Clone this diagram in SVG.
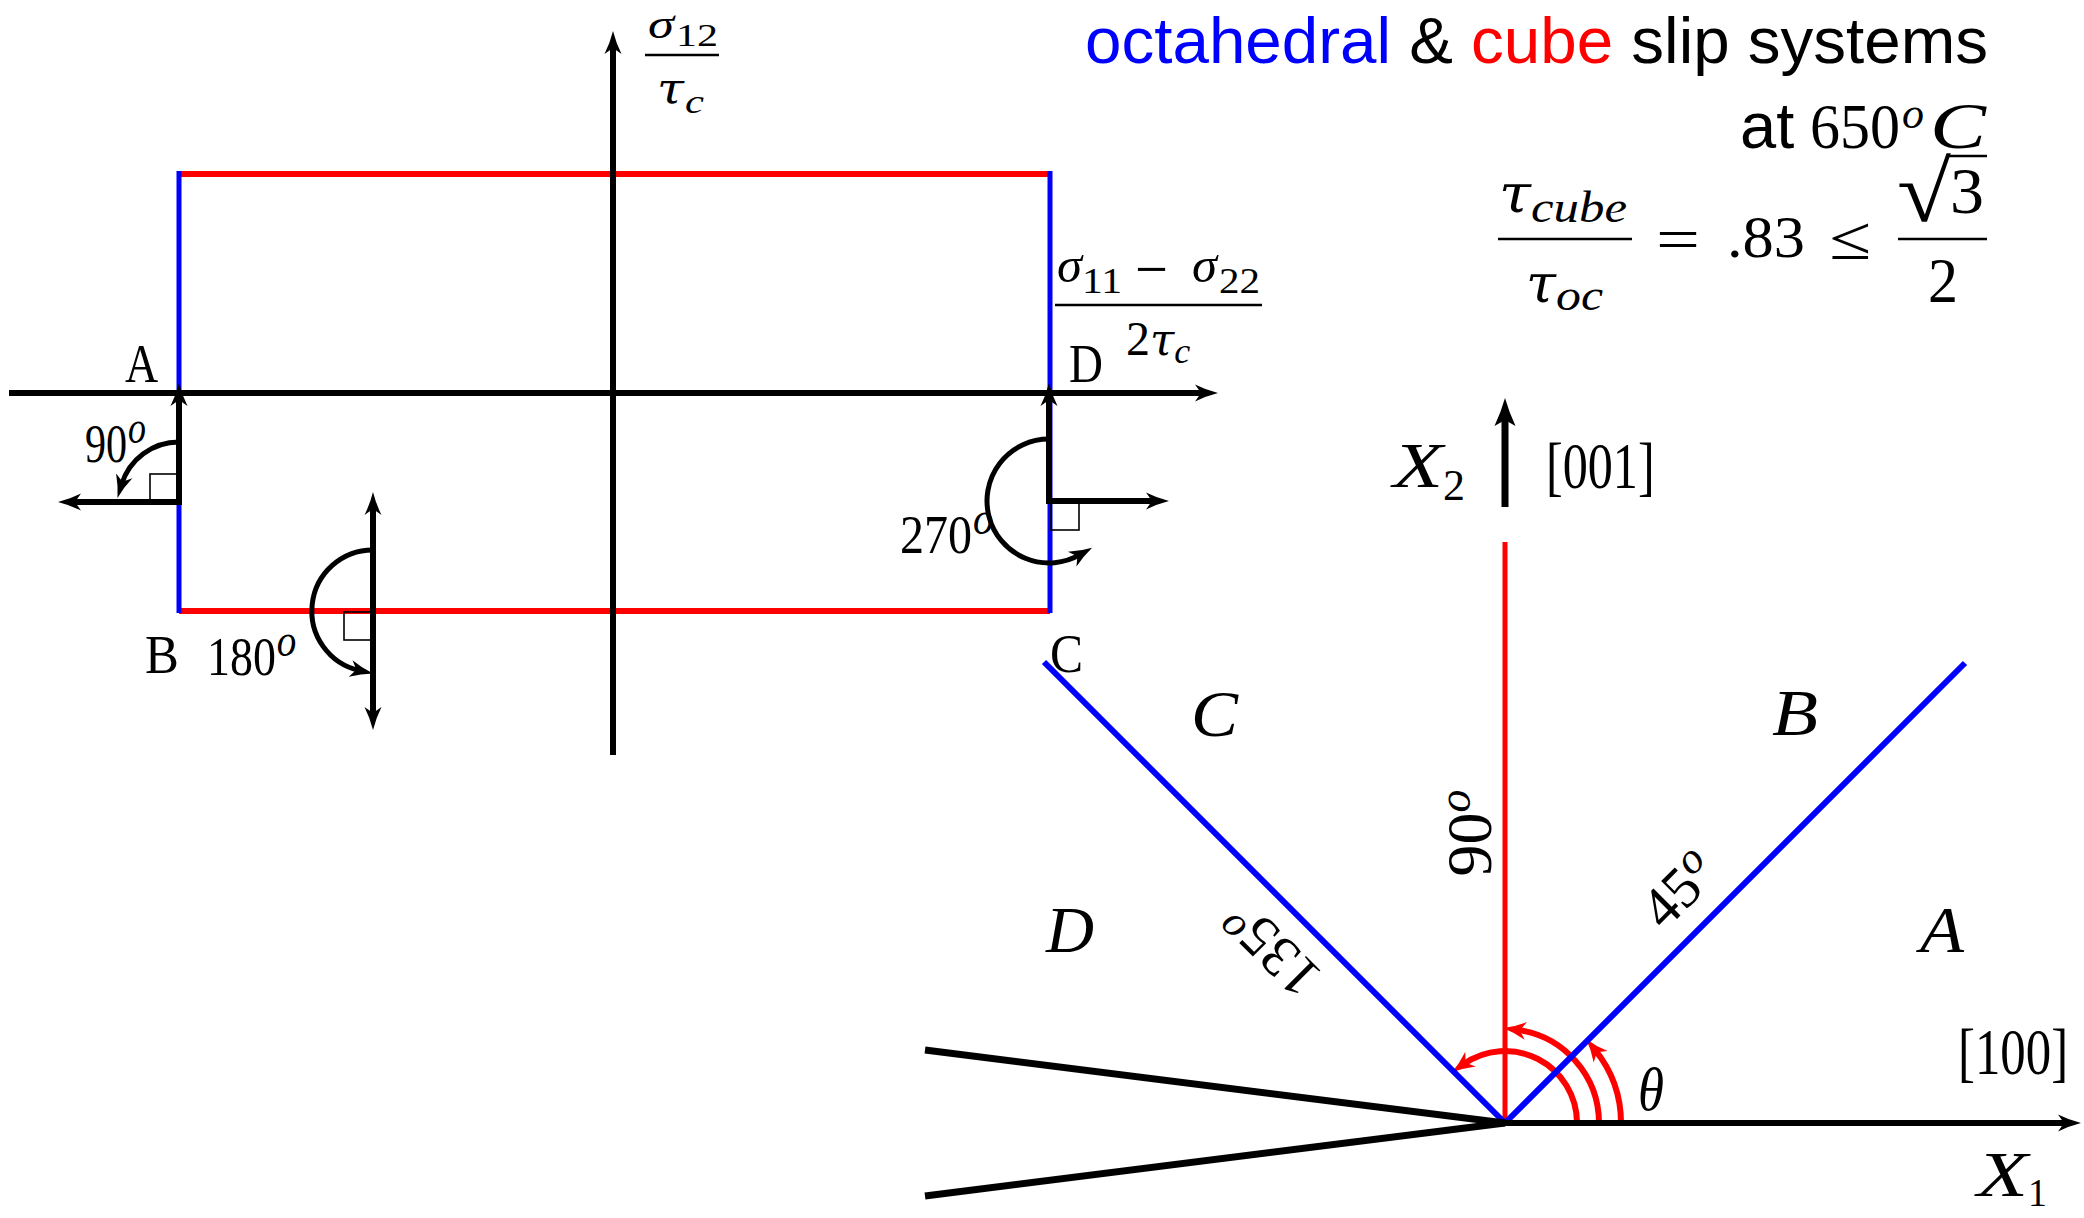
<svg xmlns="http://www.w3.org/2000/svg" width="2084" height="1218" viewBox="0 0 2084 1218">
<style>
.ser{font-family:"Liberation Serif","Times New Roman",serif;fill:#000;}
.it{font-style:italic;}
.tau{font-family:"DejaVu Serif",serif;font-style:italic;fill:#000;}
.sans{font-family:"Liberation Sans",Arial,sans-serif;fill:#000;}
.ax{stroke:#000;stroke-width:6;fill:none;}
.arc{stroke:#000;stroke-width:5;fill:none;}
.sq{stroke:#000;stroke-width:1.6;fill:none;}
.red{stroke:#ff0000;fill:none;}
.blue{stroke:#0000ff;fill:none;}
.frac{stroke:#000;stroke-width:2.6;}
</style>
<defs>
<marker id="ah" markerUnits="userSpaceOnUse" orient="auto-start-reverse" viewBox="-20 -20 40 40" markerWidth="40" markerHeight="40" refX="0" refY="0" overflow="visible">
<path d="M14,0 Q2,-3 -9,-8.5 L-3,0 L-9,8.5 Q2,3 14,0 Z" fill="#000"/>
</marker>
<marker id="ahL" markerUnits="userSpaceOnUse" orient="auto" viewBox="-20 -20 40 40" markerWidth="40" markerHeight="40" refX="0" refY="0" overflow="visible">
<path d="M16,0 Q2,-4 -12,-10.5 L-6,0 L-12,10.5 Q2,4 16,0 Z" fill="#000"/>
</marker>
<marker id="ahr" markerUnits="userSpaceOnUse" orient="auto" viewBox="-20 -20 40 40" markerWidth="40" markerHeight="40" refX="0" refY="0" overflow="visible">
<path d="M14,0 Q2,-3 -9,-9 L-3,0 L-9,9 Q2,3 14,0 Z" fill="#ff0000"/>
</marker>
</defs>
<rect width="2084" height="1218" fill="#fff"/>

<!-- LEFT: yield locus rectangle -->
<g id="yield-rectangle">
<line class="red" stroke-width="6" x1="179" y1="174" x2="1050" y2="174"/>
<line class="red" stroke-width="6" x1="179" y1="611" x2="1050" y2="611"/>
<line class="blue" stroke-width="5" x1="179" y1="171" x2="179" y2="613"/>
<line class="blue" stroke-width="5" x1="1050" y1="171" x2="1050" y2="613"/>
</g>

<g id="stress-axes">
<line class="ax" x1="9" y1="393" x2="1204" y2="393" marker-end="url(#ah)"/>
<line class="ax" x1="613" y1="755" x2="613" y2="45" marker-end="url(#ah)"/>
</g>

<g id="rotation-A">
<path class="ax" d="M179,397 L179,502 L72,502" marker-start="url(#ah)" marker-end="url(#ah)"/>
<rect class="sq" x="150" y="474" width="27" height="27"/>
<path class="arc" d="M179,442 A60,60 0 0 0 121.6,484.5" marker-end="url(#ah)"/>
</g>

<g id="rotation-B">
<path class="ax" d="M373,506 L373,716" marker-start="url(#ah)" marker-end="url(#ah)"/>
<rect class="sq" x="344" y="612" width="28" height="28"/>
<path class="arc" d="M373,550 A61,61 0 0 0 359.4,670.5" marker-end="url(#ah)"/>
</g>

<g id="rotation-D">
<path class="ax" d="M1049,397 L1049,501 L1155,501" marker-start="url(#ah)" marker-end="url(#ah)"/>
<rect class="sq" x="1051" y="502" width="28" height="28"/>
<path class="arc" d="M1049,439 A62,62 0 1 0 1080,554.7" marker-end="url(#ah)"/>
</g>

<g id="left-labels">
<text class="ser" transform="translate(125,382) scale(0.85,1)" font-size="54">A</text>
<text class="ser" transform="translate(1069,382) scale(0.87,1)" font-size="54">D</text>
<text class="ser" transform="translate(145,673) scale(0.94,1)" font-size="54">B</text>
<text class="ser" transform="translate(1050,672) scale(0.92,1)" font-size="54">C</text>
<text class="ser" transform="translate(85,462) scale(0.78,1)" font-size="54">90<tspan class="it" x="55" y="-19" font-size="46">o</tspan></text>
<text class="ser" transform="translate(207,675) scale(0.85,1)" font-size="54">180<tspan class="it" x="82" y="-19" font-size="46">o</tspan></text>
<text class="ser" transform="translate(900,553) scale(0.89,1)" font-size="54">270<tspan class="it" x="82" y="-19" font-size="46">o</tspan></text>
</g>

<g id="axis-label-sigma12">
<text class="ser it" x="648" y="38" font-size="42" textLength="26" lengthAdjust="spacingAndGlyphs">σ</text>
<text class="ser" x="676" y="46" font-size="32" textLength="42" lengthAdjust="spacingAndGlyphs">12</text>
<line class="frac" x1="645" y1="55" x2="719" y2="55"/>
<text class="tau" x="657" y="103" font-size="42" textLength="27" lengthAdjust="spacingAndGlyphs">τ</text>
<text class="ser it" x="685" y="113" font-size="34" textLength="19" lengthAdjust="spacingAndGlyphs">c</text>
</g>

<g id="axis-label-sigma11-22">
<text class="ser it" x="1057" y="282" font-size="50" textLength="25" lengthAdjust="spacingAndGlyphs">σ</text>
<text class="ser" x="1082" y="293" font-size="36" textLength="40" lengthAdjust="spacingAndGlyphs">11</text>
<text class="ser" x="1135" y="290" font-size="62" textLength="33" lengthAdjust="spacingAndGlyphs">−</text>
<text class="ser it" x="1192" y="282" font-size="50" textLength="25" lengthAdjust="spacingAndGlyphs">σ</text>
<text class="ser" x="1219" y="293" font-size="36" textLength="41" lengthAdjust="spacingAndGlyphs">22</text>
<line class="frac" x1="1055" y1="305" x2="1262" y2="305"/>
<text class="ser" x="1126" y="355" font-size="48">2<tspan class="tau" font-size="44">τ</tspan><tspan class="it" font-size="36" dy="8">c</tspan></text>
</g>

<!-- TOP RIGHT: title and formula -->
<g id="title">
<text class="sans" x="1988" y="63" font-size="65.5" text-anchor="end"><tspan fill="#0000ff">octahedral</tspan> &amp; <tspan fill="#ff0000">cube</tspan> slip systems</text>
<text class="sans" x="1740" y="148" font-size="65">at</text>
<text class="ser" x="1810" y="148" font-size="64" textLength="90" lengthAdjust="spacingAndGlyphs">650</text>
<text class="ser it" x="1902" y="128" font-size="44" textLength="22" lengthAdjust="spacingAndGlyphs">o</text>
<text class="ser it" x="1930" y="148" font-size="66" textLength="56" lengthAdjust="spacingAndGlyphs">C</text>
</g>

<g id="formula">
<text class="tau" x="1499" y="212" font-size="54" textLength="32" lengthAdjust="spacingAndGlyphs">τ</text>
<text class="ser it" x="1531" y="222" font-size="44" textLength="96" lengthAdjust="spacingAndGlyphs">cube</text>
<line class="frac" x1="1498" y1="239" x2="1632" y2="239"/>
<text class="tau" x="1526" y="302" font-size="54" textLength="30" lengthAdjust="spacingAndGlyphs">τ</text>
<text class="ser it" x="1556" y="310" font-size="44" textLength="47" lengthAdjust="spacingAndGlyphs">oc</text>
<text class="ser" x="1656" y="259" font-size="60" textLength="44" lengthAdjust="spacingAndGlyphs">=</text>
<text class="ser" x="1727" y="257" font-size="60" textLength="78" lengthAdjust="spacingAndGlyphs">.83</text>
<text class="ser" x="1829" y="259" font-size="62" textLength="42" lengthAdjust="spacingAndGlyphs">≤</text>
<text class="ser" x="1897" y="221" font-size="86" textLength="54" lengthAdjust="spacingAndGlyphs">√</text>
<line class="frac" x1="1946" y1="156" x2="1987" y2="156"/>
<text class="ser" x="1950" y="213" font-size="66" textLength="34" lengthAdjust="spacingAndGlyphs">3</text>
<line class="frac" x1="1898" y1="239" x2="1987" y2="239"/>
<text class="ser" x="1928" y="302" font-size="64" textLength="30" lengthAdjust="spacingAndGlyphs">2</text>
</g>

<!-- RIGHT: slip plane orientation -->
<g id="angle-arcs">
<path class="red" stroke-width="6" d="M1577,1123 A72,72 0 0 0 1463.2,1064.4" marker-end="url(#ahr)"/>
<path class="red" stroke-width="6" d="M1599,1123 A94,94 0 0 0 1516.9,1029.8" marker-end="url(#ahr)"/>
<path class="red" stroke-width="6" d="M1621,1123 A116,116 0 0 0 1595,1049.8" marker-end="url(#ahr)"/>
</g>

<g id="slip-lines">
<line class="red" stroke-width="5" x1="1505" y1="1123" x2="1505" y2="542"/>
<line class="blue" stroke-width="6" x1="1505" y1="1123" x2="1965" y2="663"/>
<line class="blue" stroke-width="6" x1="1505" y1="1123" x2="1044" y2="662"/>
<line stroke="#000" stroke-width="7" x1="1505" y1="1123" x2="925" y2="1050"/>
<line stroke="#000" stroke-width="7" x1="1505" y1="1123" x2="925" y2="1196"/>
</g>

<g id="crystal-axes">
<line class="ax" x1="1502" y1="1123" x2="2067" y2="1123" marker-end="url(#ah)"/>
<line stroke="#000" stroke-width="7" x1="1505" y1="507" x2="1505" y2="414" marker-end="url(#ahL)"/>
</g>

<g id="right-labels">
<text class="ser it" x="1393" y="487" font-size="64" textLength="50" lengthAdjust="spacingAndGlyphs">X</text>
<text class="ser" x="1443" y="500" font-size="44" textLength="22" lengthAdjust="spacingAndGlyphs">2</text>
<text class="ser" transform="translate(1546,488) scale(0.76,1)" font-size="66">[001]</text>
<text class="ser" transform="translate(1958,1074) scale(0.77,1)" font-size="66">[100]</text>
<text class="ser it" x="1977" y="1196" font-size="64" textLength="51" lengthAdjust="spacingAndGlyphs">X</text>
<text class="ser" x="2028" y="1206" font-size="40" textLength="19" lengthAdjust="spacingAndGlyphs">1</text>
<text class="ser it" x="1638" y="1110" font-size="62" textLength="26" lengthAdjust="spacingAndGlyphs">θ</text>
<text class="ser it" x="1191" y="736" font-size="66" textLength="47" lengthAdjust="spacingAndGlyphs">C</text>
<text class="ser it" x="1772" y="735" font-size="66" textLength="46" lengthAdjust="spacingAndGlyphs">B</text>
<text class="ser it" x="1046" y="952" font-size="66" textLength="48" lengthAdjust="spacingAndGlyphs">D</text>
<text class="ser it" x="1920" y="952" font-size="66" textLength="44" lengthAdjust="spacingAndGlyphs">A</text>
<text class="ser" transform="translate(1470,833) rotate(-90)" x="0" y="21" font-size="64" text-anchor="middle">90<tspan class="it" font-size="46" dy="-21">o</tspan></text>
<text class="ser" transform="translate(1679,890) rotate(-45)" x="0" y="19" font-size="58" text-anchor="middle">45<tspan class="it" font-size="44" dy="-19">o</tspan></text>
<text class="ser" transform="translate(1272,949) rotate(-135)" x="0" y="19" font-size="58" text-anchor="middle">135<tspan class="it" font-size="44" dy="-19">o</tspan></text>
</g>
</svg>
